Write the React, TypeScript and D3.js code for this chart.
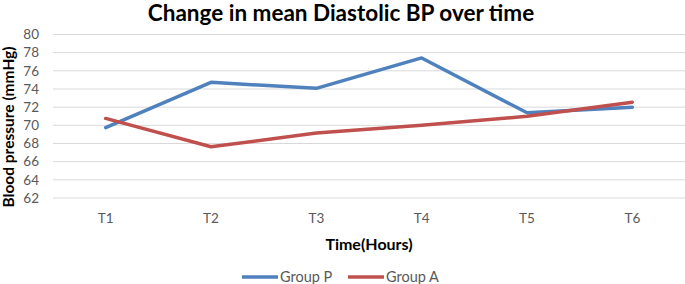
import React from "react";
import * as d3 from "d3";

const categories = ["T1", "T2", "T3", "T4", "T5", "T6"];
const groupP = [69.75, 74.73, 74.07, 77.42, 71.38, 72.0];
const groupA = [70.76, 67.64, 69.15, 70.0, 71.0, 72.55];
const yTicks = [62, 64, 66, 68, 70, 72, 74, 76, 78, 80];
const seriesNames = ["Group P", "Group A"];
const colors = ["#4F81BD", "#C0504D"];

const W = 685;
const H = 284;
const FONT = "Lato, 'Open Sans', sans-serif";

export default function App() {
  const x = d3.scaleBand().domain(categories).range([53, 685]).padding(0);
  const y = d3.scaleLinear().domain([62, 80]).range([198, 34.5]);
  const line = d3
    .line<number>()
    .x((_, i) => (x(categories[i]) as number) + x.bandwidth() / 2)
    .y((d) => y(d));
  const series = [groupP, groupA];

  return (
    <svg
      width={W}
      height={H}
      style={{ position: "absolute", left: 0, top: 0, background: "#fff" }}
      fontFamily={FONT}
    >
      <rect width={W} height={H} fill="#fff" />
      <text x={341} y={21} textAnchor="middle" fontSize={22.5} fontWeight="bold" fill="#000">
        Change in mean Diastolic BP over time
      </text>
      {yTicks.map((t) => (
        <g key={t}>
          <line x1={53} x2={685} y1={y(t)} y2={y(t)} stroke="#D9D9D9" strokeWidth={1} />
          <text x={39} y={y(t)} dy="0.35em" textAnchor="end" fontSize={13.5} fill="#595959">
            {t}
          </text>
        </g>
      ))}
      {categories.map((c) => (
        <text
          key={c}
          x={(x(c) as number) + x.bandwidth() / 2}
          y={223}
          textAnchor="middle"
          fontSize={13.5}
          fill="#595959"
        >
          {c}
        </text>
      ))}
      <text
        transform={`translate(14,127) rotate(-90)`}
        textAnchor="middle"
        fontSize={15.5}
        fontWeight="bold"
        fill="#000"
      >
        Blood pressure (mmHg)
      </text>
      <text x={369} y={250} textAnchor="middle" fontSize={16} fontWeight="bold" fill="#000">
        Time(Hours)
      </text>
      {series.map((s, i) => (
        <path
          key={i}
          d={line(s) || ""}
          fill="none"
          stroke={colors[i]}
          strokeWidth={3.5}
          strokeLinejoin="round"
          strokeLinecap="round"
        />
      ))}
      {seriesNames.map((n, i) => (
        <g key={n} transform={`translate(${242 + i * 106},277)`}>
          <line x1={0} x2={36} y1={0} y2={0} stroke={colors[i]} strokeWidth={3.5} />
          <text x={38} y={0} dy="0.35em" fontSize={14.5} fill="#595959">
            {n}
          </text>
        </g>
      ))}
    </svg>
  );
}
